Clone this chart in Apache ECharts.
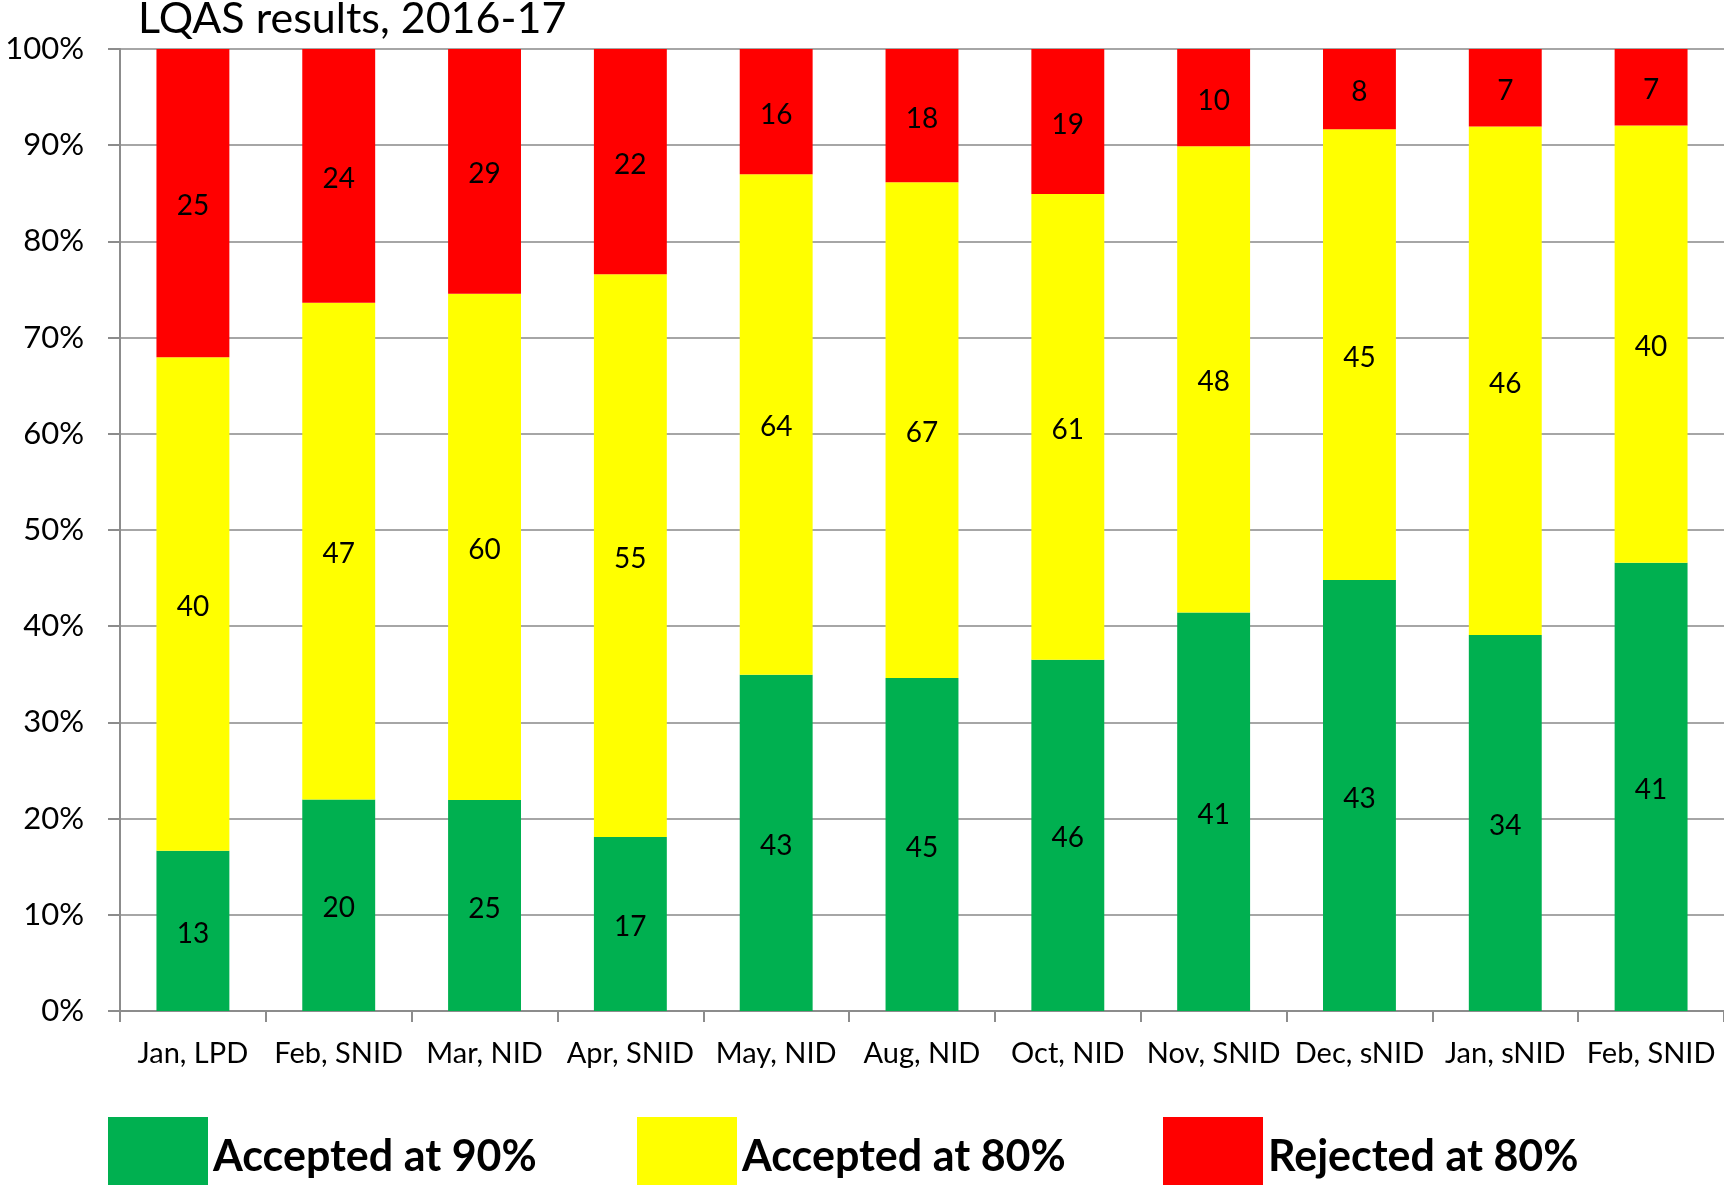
<!DOCTYPE html>
<html>
<head>
<meta charset="utf-8">
<title>LQAS results, 2016-17</title>
<script src="https://cdn.jsdelivr.net/npm/echarts@6/dist/echarts.min.js"></script>
<style>
  html, body { margin: 0; padding: 0; background: #fff; }
  #chart { width: 1724px; height: 1185px; }
</style>
</head>
<body>
<div id="chart"></div>
<script>
// Survey rounds
const categories = ['Jan, LPD', 'Feb, SNID', 'Mar, NID', 'Apr, SNID', 'May, NID', 'Aug, NID',
  'Oct, NID', 'Nov, SNID', 'Dec, sNID', 'Jan, sNID', 'Feb, SNID'];

// Number of lots in each outcome per round
const accepted90 = [13, 20, 25, 17, 43, 45, 46, 41, 43, 34, 41];
const accepted80 = [40, 47, 60, 55, 64, 67, 61, 48, 45, 46, 40];
const rejected80 = [25, 24, 29, 22, 16, 18, 19, 10, 8, 7, 7];

const seriesNames = ['Accepted at 90%', 'Accepted at 80%', 'Rejected at 80%'];
const seriesColors = ['#00B050', '#FFFF00', '#FF0000'];
const yTickLabels = ['0%', '10%', '20%', '30%', '40%', '50%', '60%', '70%', '80%', '90%', '100%'];

const counts = [accepted90, accepted80, rejected80];
const totals = categories.map((_, i) => counts.reduce((s, arr) => s + arr[i], 0));

const FONT = 'Lato, "Open Sans", sans-serif';

// Each segment is drawn as its share of the round's lots; the label shows the count
const series = counts.map((arr, k) => ({
  name: seriesNames[k],
  type: 'bar',
  stack: 'share',
  barWidth: '50%',
  itemStyle: { color: seriesColors[k] },
  emphasis: { disabled: true },
  label: {
    show: true,
    position: 'inside',
    offset: [0, 3],
    color: '#000',
    fontFamily: FONT,
    fontSize: 28,
    formatter: p => String(arr[p.dataIndex])
  },
  data: arr.map((v, i) => ({ value: v / totals[i] * 100 }))
}));

const legendLefts = [108, 637, 1163];
const legends = seriesNames.map((name, k) => ({
  data: [name],
  left: legendLefts[k],
  top: 1117,
  padding: 0,
  icon: 'rect',
  itemWidth: 100,
  itemHeight: 80,
  selectedMode: false,
  textStyle: { fontFamily: FONT, fontSize: 43, fontWeight: 'bold', color: '#000' }
}));

const chart = echarts.init(document.getElementById('chart'), null, { renderer: 'canvas' });
chart.setOption({
  animation: false,
  backgroundColor: '#fff',
  title: {
    text: 'LQAS results, 2016-17',
    left: 138,
    top: -2,
    padding: 0,
    textStyle: { fontFamily: FONT, fontSize: 43, fontWeight: 'normal', color: '#000' }
  },
  legend: legends,
  grid: { left: 120, right: 0, top: 49, bottom: 1185 - 1011, containLabel: false },
  xAxis: {
    type: 'category',
    data: categories,
    boundaryGap: true,
    axisLine: { lineStyle: { color: '#8c8c8c', width: 2 } },
    axisTick: { show: true, alignWithLabel: false, length: 11, lineStyle: { color: '#8c8c8c', width: 2 } },
    axisLabel: { color: '#000', fontFamily: FONT, fontSize: 29, margin: 28, interval: 0 }
  },
  yAxis: {
    type: 'value',
    min: 0,
    max: 100,
    interval: 10,
    axisLine: { show: true, lineStyle: { color: '#8c8c8c', width: 2 } },
    axisTick: { show: true, length: 12, lineStyle: { color: '#8c8c8c', width: 2 } },
    splitLine: { show: true, lineStyle: { color: '#a6a6a6', width: 2 } },
    axisLabel: {
      color: '#000', fontFamily: FONT, fontSize: 31, margin: 36,
      formatter: v => yTickLabels[Math.round(v / 10)]
    }
  },
  series: series
});
</script>
</body>
</html>
